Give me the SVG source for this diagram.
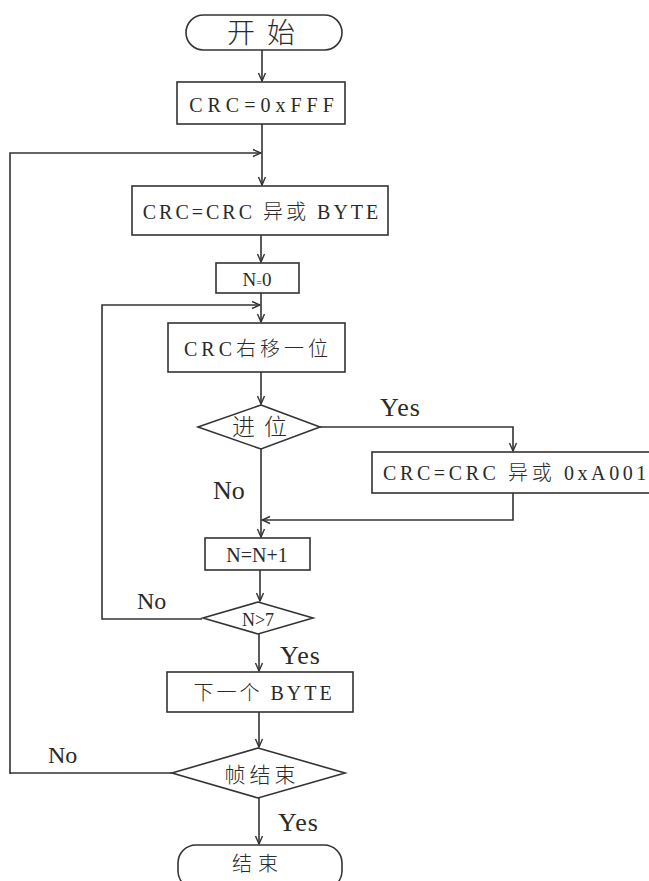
<svg xmlns="http://www.w3.org/2000/svg" width="649" height="881" viewBox="0 0 649 881">
<style>
.s{fill:#fff;stroke:#333;stroke-width:1.6}
.c{fill:none;stroke:#333;stroke-width:1.6}
.t{font-family:"Liberation Serif","Noto Sans CJK SC",serif;fill:#2a2a2a;text-anchor:middle;font-weight:300}
.l{font-family:"Liberation Serif","Noto Sans CJK SC",serif;fill:#2a2a2a;font-weight:300}
</style>
<defs>
<marker id="a" markerWidth="10" markerHeight="10" refX="9" refY="5" orient="auto" markerUnits="userSpaceOnUse">
<path d="M1,1.5 L9,5 L1,8.5" fill="none" stroke="#333" stroke-width="1.4"/>
</marker>
</defs>
<rect width="649" height="881" fill="#fff"/>
<g id="connectors">
<path class="c" d="M262,50 V81" marker-end="url(#a)"/>
<path class="c" d="M262,124 V185" marker-end="url(#a)"/>
<path class="c" d="M10,773 H172 M10,774 V153 H261" marker-end="url(#a)"/>
<path class="c" d="M261,235 V262" marker-end="url(#a)"/>
<path class="c" d="M261,293 V322" marker-end="url(#a)"/>
<path class="c" d="M202,619 H102 V305 H260" marker-end="url(#a)"/>
<path class="c" d="M261,372 V404" marker-end="url(#a)"/>
<path class="c" d="M320,427 H513 V451" marker-end="url(#a)"/>
<path class="c" d="M261,449 V537" marker-end="url(#a)"/>
<path class="c" d="M513,493 V520 H262" marker-end="url(#a)"/>
<path class="c" d="M260,570 V601" marker-end="url(#a)"/>
<path class="c" d="M259,634 V671" marker-end="url(#a)"/>
<path class="c" d="M259,712 V747" marker-end="url(#a)"/>
<path class="c" d="M259,798 V844" marker-end="url(#a)"/>
</g>
<g id="start"><rect class="s" x="186" y="15" width="156" height="35" rx="17.5"/><text class="t" x="267" y="43" font-size="28" letter-spacing="12">开始</text></g>
<g id="init"><rect class="s" x="177" y="82" width="168" height="42"/><text class="t" x="264" y="112" font-size="20" letter-spacing="5">CRC=0xFFF</text></g>
<g id="xor"><rect class="s" x="132" y="186" width="256" height="49"/><text class="t" x="262" y="219" font-size="20" letter-spacing="3">CRC=CRC 异或 BYTE</text></g>
<g id="n0"><rect class="s" x="216" y="263" width="83" height="30"/><text class="t" x="257" y="286" font-size="19">N<tspan font-size="10">=</tspan>0</text></g>
<g id="shift"><rect class="s" x="168" y="323" width="177" height="49"/><text class="t" x="258" y="356" font-size="20" letter-spacing="4">CRC右移一位</text></g>
<g id="carry"><path class="s" d="M261,405 L320,427 L261,449 L198,427 Z"/><text class="t" x="264" y="435" font-size="23" letter-spacing="9">进位</text></g>
<g id="xorpoly"><rect class="s" x="372" y="452" width="280" height="41"/><text class="l" x="383" y="480" font-size="20" letter-spacing="3.6">CRC=CRC 异或 0xA001</text></g>
<g id="inc"><rect class="s" x="205" y="538" width="105" height="32"/><text class="t" x="257" y="562" font-size="20">N=N+1</text></g>
<g id="n7"><path class="s" d="M258,602 L313,618 L258,634 L203,618 Z"/><text class="t" x="258" y="626" font-size="18">N&gt;7</text></g>
<g id="next"><rect class="s" x="167" y="672" width="186" height="40"/><text class="t" x="264" y="700" font-size="20" letter-spacing="3">下一个 BYTE</text></g>
<g id="frameend"><path class="s" d="M258,748 L345,773 L258,798 L172,773 Z"/><text class="t" x="262" y="782" font-size="21" letter-spacing="4">帧结束</text></g>
<g id="end"><rect class="s" x="178" y="845" width="164" height="44" rx="18"/><text class="t" x="258" y="871" font-size="20" letter-spacing="6">结束</text></g>
<g id="labels">
<text class="l" x="380" y="416" font-size="26" letter-spacing="1">Yes</text>
<text class="l" x="213" y="499" font-size="26">No</text>
<text class="l" x="137" y="609" font-size="24">No</text>
<text class="l" x="280" y="664" font-size="26" letter-spacing="1">Yes</text>
<text class="l" x="48" y="763" font-size="24">No</text>
<text class="l" x="278" y="831" font-size="26" letter-spacing="1">Yes</text>
</g>
</svg>
